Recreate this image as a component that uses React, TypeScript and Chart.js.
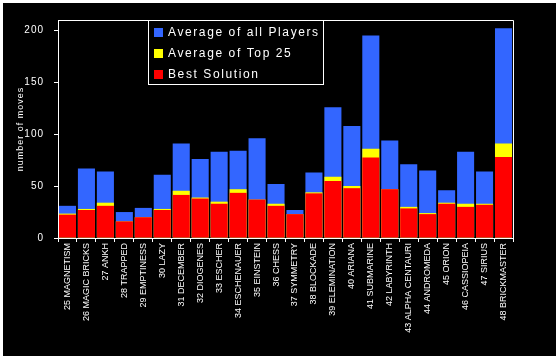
import React, { useEffect, useRef } from "react";
import { Chart, registerables } from "chart.js";

Chart.register(...registerables);

const categories = [
  "25 MAGNETISM", "26 MAGIC BRICKS", "27 ANKH", "28 TRAPPED", "29 EMPTINESS", "30 LAZY",
  "31 DECEMBER", "32 DIOGENES", "33 ESCHER", "34 ESCHENAUER", "35 EINSTEIN", "36 CHESS",
  "37 SYMMETRY", "38 BLOCKADE", "39 ELEMINATION", "40 ARIANA", "41 SUBMARINE", "42 LABYRINTH",
  "43 ALPHA CENTAURI", "44 ANDROMEDA", "45 ORION", "46 CASSIOPEIA", "47 SIRIUS", "48 BRICKMASTER",
];
const allPlayers = [31, 67, 64, 25, 29, 61, 91, 76, 83, 84, 96, 52, 27, 63, 126, 108, 195, 94, 71, 65, 46, 83, 64, 202];
const top25 = [23.5, 28, 34, 16, 20, 28, 45.5, 39, 35, 47, 37, 33, 23, 44, 59, 50, 86, 47, 30, 24, 34, 33, 33, 91];
const best = [22.5, 27, 31, 16, 20, 27, 41.5, 38, 33, 43.5, 37, 31, 23, 43, 55, 48, 77.5, 47, 28.5, 23, 33, 30, 32, 78];
const yTicks = [0, 50, 100, 150, 200];
const legendLabels = ["Average of all Players", "Average of Top 25", "Best Solution"];
const legendColors = ["#3366ff", "#ffff00", "#ff0000"];

const FONT = "'Liberation Sans', Arial, sans-serif";

const framePlugin = {
  id: "frame",
  beforeDraw(chart: any) {
    chart.ctx.letterSpacing = "0px";
  },
  afterDatasetsDraw(chart: any) {
    const { ctx, chartArea: a } = chart;
    ctx.save();
    ctx.strokeStyle = "#ffffff";
    ctx.lineWidth = 1;
    ctx.beginPath();
    ctx.moveTo(a.left, Math.round(a.top) + 0.5);
    ctx.lineTo(Math.round(a.right) + 0.5, Math.round(a.top) + 0.5);
    ctx.lineTo(Math.round(a.right) + 0.5, a.bottom);
    ctx.stroke();

    // legend box
    const lx = 145, ly = 17, lw = 175, lh = 64;
    ctx.fillStyle = "#000000";
    ctx.fillRect(lx, ly, lw, lh);
    ctx.strokeRect(lx + 0.5, ly + 0.5, lw, lh);
    ctx.font = `12px ${FONT}`;
    ctx.letterSpacing = "1.6px";
    ctx.textBaseline = "alphabetic";
    ctx.textAlign = "left";
    legendLabels.forEach((t, i) => {
      const rowY = 25 + i * 21;
      ctx.fillStyle = legendColors[i];
      ctx.fillRect(151, rowY, 9, 9);
      ctx.fillStyle = "#ffffff";
      ctx.fillText(t, 165, rowY + 8);
    });
    ctx.restore();
    ctx.letterSpacing = "1px";
  },
};

export default function App() {
  const ref = useRef<HTMLCanvasElement | null>(null);
  useEffect(() => {
    if (!ref.current) return;
    const chart = new Chart(ref.current, {
      type: "bar",
      data: {
        labels: categories,
        datasets: [
          { label: legendLabels[0], data: allPlayers, backgroundColor: legendColors[0], order: 3, borderWidth: 0, barPercentage: 1, categoryPercentage: 0.9 },
          { label: legendLabels[1], data: top25, backgroundColor: legendColors[1], order: 2, borderWidth: 0, barPercentage: 1, categoryPercentage: 0.9 },
          { label: legendLabels[2], data: best, backgroundColor: legendColors[2], order: 1, borderWidth: 0, barPercentage: 1, categoryPercentage: 0.9 },
        ],
      },
      options: {
        responsive: false,
        animation: false,
        devicePixelRatio: 1,
        layout: { padding: { top: 17, right: 43, left: 0, bottom: 0 } },
        plugins: { legend: { display: false }, tooltip: { enabled: false } },
        scales: {
          x: {
            stacked: true,
            offset: true,
            grid: { display: true, drawOnChartArea: false, drawTicks: true, tickLength: 4, color: "#ffffff", offset: true },
            border: { display: true, color: "#ffffff", width: 1 },
            ticks: {
              color: "#ffffff",
              font: { family: FONT, size: 9 },
              minRotation: 90,
              maxRotation: 90,
              autoSkip: false,
              padding: 1,
            },
            afterFit(scale: any) {
              scale.height = 118;
            },
          },
          y: {
            stacked: false,
            min: 0,
            max: 210,
            grid: { drawOnChartArea: false, drawTicks: true, tickLength: 4, color: "#ffffff", z: 1 },
            border: { display: true, color: "#ffffff", width: 1, z: 1 },
            afterBuildTicks(scale: any) {
              scale.ticks = yTicks.map((v) => ({ value: v }));
            },
            ticks: {
              color: "#ffffff",
              font: { family: FONT, size: 10 },
              padding: 10,
              z: 1,
            },
            title: {
              display: true,
              text: "number of moves",
              color: "#ffffff",
              font: { family: FONT, size: 9 },
              padding: { top: 12, bottom: 0 },
            },
            afterFit(scale: any) {
              scale.width = 55;
            },
          },
        },
      },
      plugins: [framePlugin],
    } as any);
    return () => chart.destroy();
  }, []);

  return (
    <div style={{ position: "fixed", left: 0, top: 0, width: 559, height: 359, background: "#ffffff" }}>
      <div style={{ position: "absolute", left: 3, top: 3, width: 553, height: 353, background: "#000000" }}>
        <canvas ref={ref} width={553} height={353} style={{ display: "block", width: 553, height: 353 }} />
      </div>
    </div>
  );
}
